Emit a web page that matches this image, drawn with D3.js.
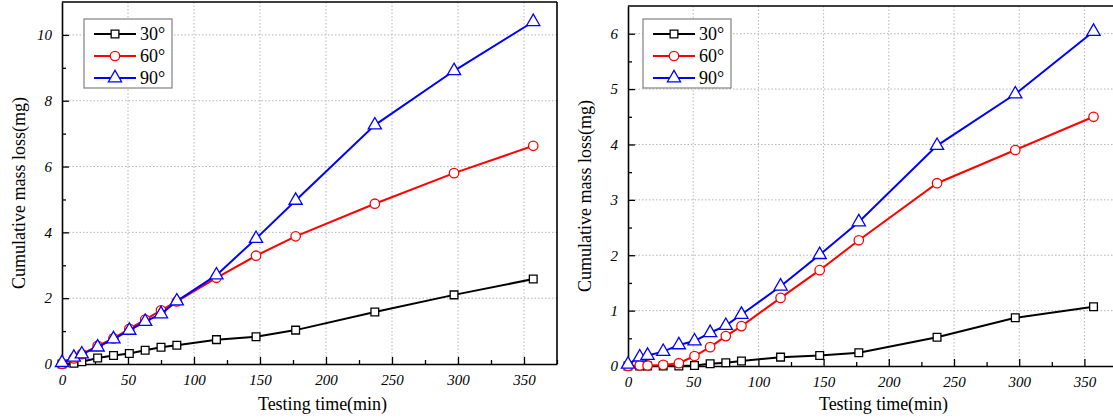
<!DOCTYPE html>
<html>
<head>
<meta charset="utf-8">
<script src="https://cdn.jsdelivr.net/npm/d3@7"></script>
<style>
    body { margin: 0; background: #fff; }
    svg { display: block; font-family: "Liberation Serif", "Times New Roman", serif; }
</style>
</head>
<body>
<svg id="chart" width="1113" height="419"></svg>
<script>
// Testing times (min), same for every series
const times = [0, 9, 15, 27, 39, 51, 63, 75, 87, 117, 147, 177, 237, 297, 357];
const seriesNames = ["30°", "60°", "90°"];

// left panel
const left30 = [0, 0.02, 0.07, 0.18, 0.26, 0.32, 0.42, 0.51, 0.57, 0.74, 0.83, 1.03, 1.58, 2.10, 2.58];
const left60 = [0, 0.17, 0.30, 0.55, 0.78, 1.07, 1.35, 1.63, 1.90, 2.62, 3.29, 3.88, 4.87, 5.80, 6.63];
const left90 = [0.04, 0.20, 0.30, 0.51, 0.76, 1.02, 1.29, 1.52, 1.91, 2.70, 3.81, 4.97, 7.26, 8.91, 10.40];

// right panel
const right30 = [0, 0, 0, 0, 0, 0.01, 0.04, 0.06, 0.09, 0.16, 0.19, 0.24, 0.52, 0.87, 1.07];
const right60 = [0, 0.01, 0.01, 0.02, 0.05, 0.18, 0.34, 0.54, 0.72, 1.23, 1.73, 2.27, 3.30, 3.90, 4.50];
const right90 = [0.03, 0.16, 0.19, 0.26, 0.38, 0.45, 0.60, 0.73, 0.93, 1.44, 2.01, 2.60, 3.98, 4.91, 6.04];

const xTicks = [0, 50, 100, 150, 200, 250, 300, 350];
const leftYTicks = [0, 2, 4, 6, 8, 10];
const rightYTicks = [0, 1, 2, 3, 4, 5, 6];

const colors = ["#000000", "#ff0000", "#0000ff"];
const shapes = [d3.symbolSquare, d3.symbolCircle, d3.symbolTriangle];
const sizes = [60, 70, 75];

const svg = d3.select("#chart");

function drawPanel(opts) {
    const x = d3.scaleLinear().domain([0, 375]).range([opts.left, opts.right]);
    const y = d3.scaleLinear().domain([0, opts.yMax]).range([opts.bottom, opts.top]);
    const g = svg.append("g");

    // grid
    g.append("g").selectAll("line").data(xTicks.slice(1)).enter().append("line")
        .attr("x1", d => x(d)).attr("x2", d => x(d))
        .attr("y1", opts.top).attr("y2", opts.bottom)
        .attr("stroke", "#b5b5b5").attr("stroke-width", 1).attr("stroke-dasharray", "1.5,2");
    g.append("g").selectAll("line").data(opts.yTicks.slice(1)).enter().append("line")
        .attr("x1", opts.left).attr("x2", opts.right)
        .attr("y1", d => y(d)).attr("y2", d => y(d))
        .attr("stroke", "#b5b5b5").attr("stroke-width", 1).attr("stroke-dasharray", "1.5,2");

    // x axis (ticks pointing inward)
    g.append("g").attr("class", "ax").attr("transform", "translate(0," + opts.bottom + ")")
        .call(d3.axisBottom(x).tickValues(xTicks).tickSize(-7).tickPadding(10).tickSizeOuter(0));
    g.append("g").attr("transform", "translate(0," + opts.bottom + ")")
        .call(d3.axisBottom(x).tickValues(xTicks.map(d => d + 25)).tickSize(-4).tickFormat("").tickSizeOuter(0))
        .select(".domain").remove();

    // y axis
    g.append("g").attr("class", "ax").attr("transform", "translate(" + opts.left + ",0)")
        .call(d3.axisLeft(y).tickValues(opts.yTicks).tickSize(-7).tickPadding(10)
            .tickFormat(d3.format("d")).tickSizeOuter(0));
    g.append("g").attr("transform", "translate(" + opts.left + ",0)")
        .call(d3.axisLeft(y).tickValues(opts.yTicks.map(d => d + opts.yStep / 2).filter(d => d < opts.yMax))
            .tickSize(-4).tickFormat("").tickSizeOuter(0))
        .select(".domain").remove();

    g.selectAll(".tick line").attr("stroke", "#000").attr("stroke-width", 1.3);
    g.selectAll(".domain").attr("stroke", "#000").attr("stroke-width", 1.6);
    g.selectAll(".ax")
        .attr("font-family", "Liberation Serif")
        .attr("font-size", 15)
        .attr("font-style", "italic");
    g.selectAll(".tick text").attr("fill", "#000");

    // frame top and right
    g.append("line").attr("x1", opts.left).attr("x2", opts.right)
        .attr("y1", opts.top).attr("y2", opts.top)
        .attr("stroke", "#000").attr("stroke-width", 1.6);
    g.append("line").attr("x1", opts.right).attr("x2", opts.right)
        .attr("y1", opts.top).attr("y2", opts.bottom)
        .attr("stroke", "#000").attr("stroke-width", 1.6);

    // lines and markers
    const line = d3.line().x(d => x(d[0])).y(d => y(d[1]));
    opts.series.forEach((vals, i) => {
        const pts = times.map((t, j) => [t, vals[j]]);
        g.append("path").datum(pts)
            .attr("fill", "none").attr("stroke", colors[i]).attr("stroke-width", 2)
            .attr("d", line);
        g.append("g").selectAll("path").data(pts).enter().append("path")
            .attr("transform", d => "translate(" + x(d[0]) + "," + y(d[1]) + ")")
            .attr("d", d3.symbol().type(shapes[i]).size(sizes[i]))
            .attr("fill", "#fff").attr("stroke", colors[i]).attr("stroke-width", 1.3);
    });

    // axis titles
    g.append("text")
        .attr("x", (opts.left + Math.min(opts.right, 1113)) / 2 + 13)
        .attr("y", 410)
        .attr("text-anchor", "middle")
        .style("font-size", "18px")
        .text("Testing time(min)");
    g.append("text")
        .attr("transform", "translate(" + (opts.left - 37) + "," + ((opts.top + opts.bottom) / 2 + 10) + ") rotate(-90)")
        .attr("text-anchor", "middle")
        .style("font-size", "18px")
        .text("Cumulative mass loss(mg)");

    // legend
    const lg = g.append("g").attr("transform", "translate(" + opts.legendX + "," + opts.legendY + ")");
    lg.append("rect").attr("x", 0).attr("y", 0).attr("width", 88).attr("height", 69)
        .attr("fill", "#fff").attr("stroke", "#808080").attr("stroke-width", 1.2);
    seriesNames.forEach((name, i) => {
        const ry = 15 + i * 22;
        lg.append("line").attr("x1", 10).attr("x2", 52).attr("y1", ry).attr("y2", ry)
            .attr("stroke", colors[i]).attr("stroke-width", 2);
        lg.append("path").attr("transform", "translate(31," + ry + ")")
            .attr("d", d3.symbol().type(shapes[i]).size(sizes[i]))
            .attr("fill", "#fff").attr("stroke", colors[i]).attr("stroke-width", 1.3);
        lg.append("text").attr("x", 56).attr("y", ry + 6)
            .style("font-size", "18px").text(name);
    });
}

drawPanel({
    left: 62, right: 557, top: 2, bottom: 364,
    yMax: 11, yStep: 2, yTicks: leftYTicks,
    series: [left30, left60, left90],
    legendX: 84, legendY: 19
});

drawPanel({
    left: 628, right: 1117, top: 6, bottom: 366,
    yMax: 6.5, yStep: 1, yTicks: rightYTicks,
    series: [right30, right60, right90],
    legendX: 643, legendY: 19
});
</script>
</body>
</html>
